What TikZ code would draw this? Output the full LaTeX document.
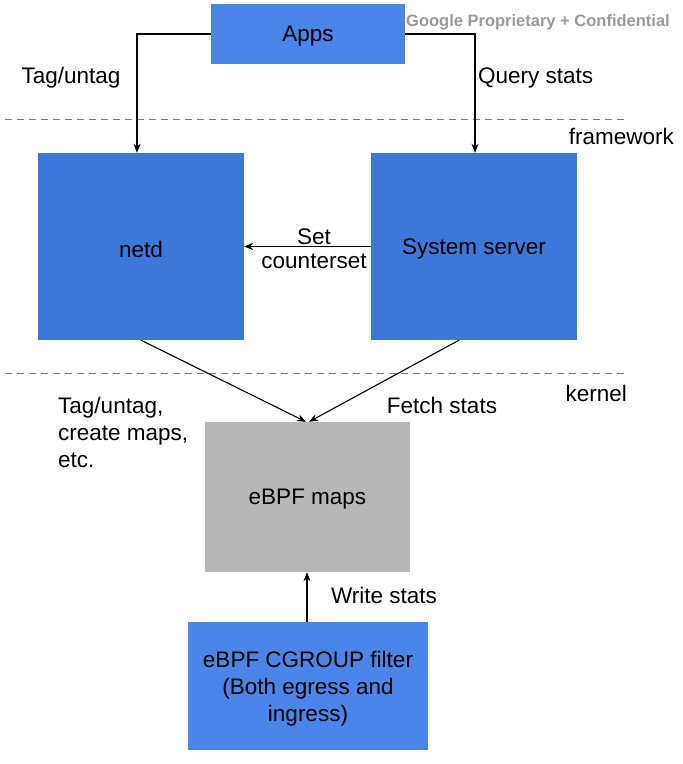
\documentclass[tikz,border=0pt]{standalone}
\usepackage{fontspec}
\setmainfont{Liberation Sans}
\usetikzlibrary{arrows.meta}
\definecolor{bluelight}{HTML}{4A86E8}
\definecolor{bluedark}{HTML}{3C78D8}
\definecolor{boxgray}{HTML}{B7B7B7}
\definecolor{dashgray}{HTML}{777777}
\begin{document}
\begin{tikzpicture}[x=1pt,y=-1pt,
  lbl/.style={font=\fontsize{22.5}{27}\selectfont, inner sep=0pt, yshift=-2.5pt},
  boxtxt/.style={font=\fontsize{22.5}{27}\selectfont, inner sep=0pt, align=center, yshift=-2.5pt},
  boxlight/.style={fill=bluelight, draw=none, inner sep=0pt},
  boxdark/.style={fill=bluedark, draw=none, inner sep=0pt},
  conn/.style={draw=black, line width=1.1pt, -{Stealth[length=9pt,width=7pt]}},
  sep/.style={draw=dashgray, line width=1pt, dash pattern=on 7pt off 5pt}
]
\useasboundingbox (0,0) rectangle (683,764);
\fill[white] (0,0) rectangle (683,764);

% boxes
\node[boxlight, minimum width=194pt, minimum height=60pt] (apps) at (308,34) {};
\node[boxdark, minimum width=206pt, minimum height=187pt] (netd) at (141,246.5) {};
\node[boxdark, minimum width=206pt, minimum height=187pt] (sys) at (474,246.5) {};
\node[fill=boxgray, inner sep=0pt, minimum width=205pt, minimum height=150pt] (maps) at (307.5,497) {};
\node[boxlight, minimum width=240pt, minimum height=128pt] (filt) at (308,686) {};

\node[boxtxt] (appst) at (apps.center) {Apps};
\node[boxtxt] (netdt) at (netd.center) {netd};
\node[boxtxt] (syst) at (sys.center) {System server};
\node[boxtxt] (mapst) at (maps.center) {eBPF maps};
\node[boxtxt] (filtt) at (filt.center) {eBPF CGROUP filter\\(Both egress and\\ingress)};

% watermark
\node[font=\bfseries\fontsize{16.5}{19}\selectfont, text=black!40, inner sep=0pt, anchor=west, yshift=-2pt] (wm) at (406,20) {Google Proprietary + Confidential};

% dashed separators
\coordinate (d1a) at (5,119); \coordinate (d1b) at (625,119);
\coordinate (d2a) at (5,373); \coordinate (d2b) at (625,373);
\draw[sep] (d1a) -- (d1b);
\draw[sep] (d2a) -- (d2b);
\node[lbl, anchor=east] (fw) at (674,134) {framework};
\node[lbl, anchor=east] (kn) at (627,391) {kernel};

% connectors
\draw[conn] (apps.west) -| (netd.north -| 137,0);
\draw[conn] (apps.east) -| (sys.north -| 475,0);
\draw[conn] (sys.west) -- (netd.east);
\draw[conn] (netd.south -| 141,0) -- (maps.north -| 306,0);
\draw[conn] (sys.south -| 459,0) -- (maps.north -| 309,0);
\draw[conn] (filt.north -| 307,0) -- (maps.south -| 307,0);

% labels
\node[lbl] (l1) at (71,75) {Tag/untag};
\node[lbl, anchor=west] (l2) at (478,75) {Query stats};
\node[lbl, align=center, font=\fontsize{22.5}{24}\selectfont] (l3) at (314,246) {Set\\counterset};
\node[lbl, align=left, anchor=west] (l4) at (58,430) {Tag/untag,\\create maps,\\etc.};
\node[lbl] (l5) at (442,403) {Fetch stats};
\node[lbl] (l6) at (384,593) {Write stats};
\end{tikzpicture}
\end{document}
